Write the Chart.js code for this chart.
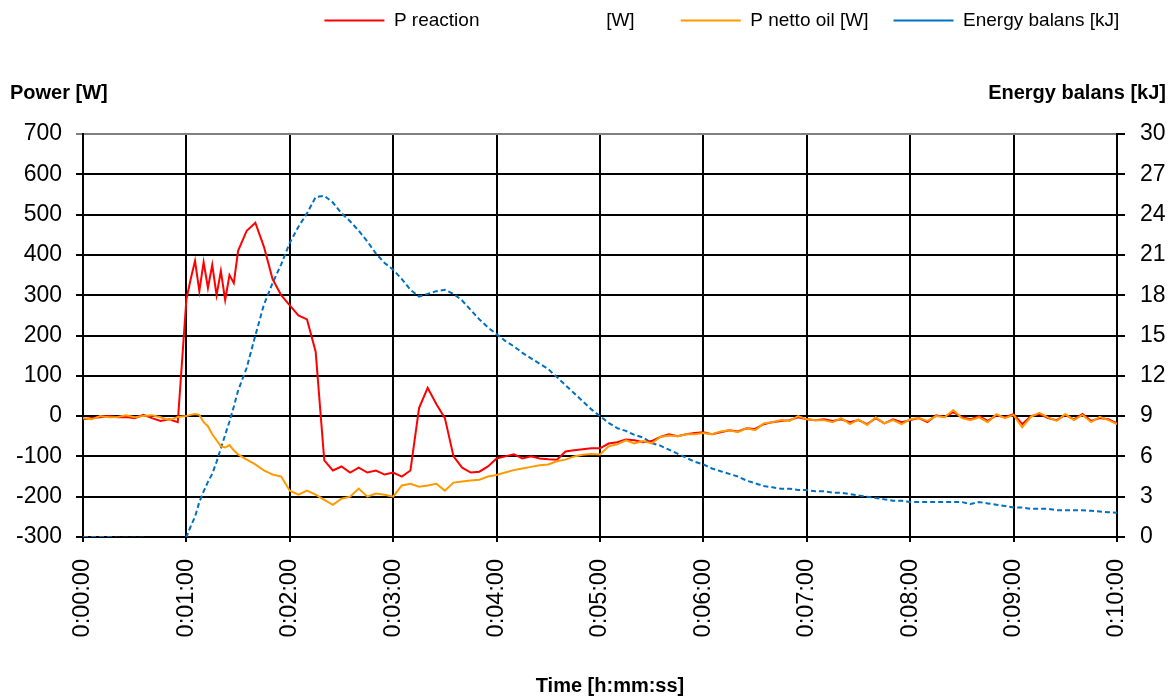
<!DOCTYPE html>
<html>
<head>
<meta charset="utf-8">
<script src="https://cdn.jsdelivr.net/npm/chart.js@4.4.0/dist/chart.umd.min.js"></script>
<style>
  html, body { margin: 0; padding: 0; background: #fff; }
</style>
</head>
<body>
<canvas id="powerChart" width="1176" height="698"></canvas>
<script>
// time in seconds, a reading every 5 s (2.5 s while the reaction starts)
const times = [
  0, 5, 10, 15, 20, 25, 30, 35, 40, 45, 50, 55,
  60, 62.5, 65, 67.5, 70, 72.5, 75, 77.5, 80, 82.5, 85, 87.5,
  90, 95, 100, 105, 110, 115,
  120, 125, 130, 135, 140, 145, 150, 155, 160, 165, 170, 175,
  180, 185, 190, 195, 200, 205, 210, 215, 220, 225, 230, 235,
  240, 245, 250, 255, 260, 265, 270, 275, 280, 285, 290, 295,
  300, 305, 310, 315, 320, 325, 330, 335, 340, 345, 350, 355,
  360, 365, 370, 375, 380, 385, 390, 395, 400, 405, 410, 415,
  420, 425, 430, 435, 440, 445, 450, 455, 460, 465, 470, 475,
  480, 485, 490, 495, 500, 505, 510, 515, 520, 525, 530, 535,
  540, 545, 550, 555, 560, 565, 570, 575, 580, 585, 590, 595,
  600
];

const pReaction = [
  -8, -5, -3, 0, -3, -2, -5, 3, -5, -12, -8, -15,
  290, 340, 385, 310, 382, 318, 375, 300, 360, 288, 350, 330,
  410, 460, 480, 420, 340, 300,
  275, 250, 240, 160, -110, -135, -125, -140, -128, -140, -135, -145,
  -140, -150, -135, 20, 70, 30, -5, -100, -128, -140, -138, -125,
  -105, -100, -95, -105, -100, -105, -107, -108, -88, -85, -82, -80,
  -80, -68, -65, -58, -60, -65, -62, -52, -45, -50, -45, -42,
  -40, -45, -40, -35, -38, -30, -32, -20, -15, -12, -10, -3,
  -8, -10, -8, -12, -8, -15, -10, -20, -5, -18, -8, -15,
  -10, -5, -15, 2, -2, 10, -3, -8, 0, -12, 2, -3,
  5, -20, 0, 5, -5, -10, 3, -8, 5, -12, -5, -8,
  -18
];

const pNettoOil = [
  -5, -8, 0, -3, -2, 2, -3, 0, 2, -3, -10, -2,
  0, 3, 5, 3, -15, -25, -45, -60, -75, -78, -72, -85,
  -95, -108, -120, -135, -145, -150,
  -185, -195, -185, -195, -208, -220, -205, -200, -180, -200, -192, -195,
  -200, -172, -168, -175, -172, -168, -185, -165, -162, -160, -158, -150,
  -146, -140, -134, -130, -126, -122, -120, -112, -108, -100, -96, -94,
  -95, -75, -70, -60, -68, -62, -68, -52, -48, -50, -45, -45,
  -42, -45, -38, -35, -40, -30, -35, -18, -15, -10, -12, 0,
  -8, -10, -10, -15, -5, -20, -8, -22, -3, -18, -10, -20,
  -8, -5, -12, 0, -3, 15, -5, -10, -3, -15, 5, -5,
  3, -28, -2, 8, -3, -12, 5, -10, 3, -15, -2, -10,
  -20
];

const energyBalans = [
  0, 0, 0, 0, -0.05, -0.05, -0.05, -0.05, -0.1, -0.1, -0.3, -0.3,
  0, 0.8, 1.5, 2.6, 3.4, 4.1, 4.7, 5.6, 6.6, 7.6, 8.6, 9.7,
  10.9, 12.6, 15.0, 17.3, 18.9, 20.3,
  21.9, 23.1, 24.1, 25.3, 25.4, 24.9, 24.1, 23.5, 22.8, 22.0, 21.1, 20.4,
  19.9, 19.2, 18.4, 17.9, 18.1, 18.3, 18.4, 18.1, 17.6, 16.9, 16.2, 15.6,
  15.1, 14.6, 14.2, 13.7, 13.3, 12.9, 12.5, 11.9, 11.3, 10.7, 10.1, 9.5,
  9.0, 8.5, 8.1, 7.9, 7.6, 7.4, 7.0, 6.8, 6.5, 6.2, 5.9, 5.6,
  5.4, 5.1, 4.9, 4.7, 4.5, 4.2, 4.0, 3.8, 3.7, 3.6, 3.6, 3.5,
  3.5, 3.4, 3.4, 3.3, 3.3, 3.2, 3.1, 3.0, 2.9, 2.8, 2.7, 2.7,
  2.6, 2.6, 2.6, 2.6, 2.6, 2.6, 2.6, 2.45, 2.6, 2.5, 2.4, 2.3,
  2.2, 2.2, 2.1, 2.1, 2.1, 2.0, 2.0, 2.0, 2.0, 1.95, 1.9, 1.85,
  1.8
];

// the spaces keep the legend entries where the excel legend had them
const seriesLabels = [
  'P reaction                        [W]    ',
  'P netto oil [W]',
  'Energy balans [kJ]      '
];

const fontFamily = '"Liberation Sans", Arial, sans-serif';
Chart.defaults.font.family = fontFamily;
Chart.defaults.color = '#000';

function toPoints(values) {
  return times.map((t, i) => ({ x: t, y: values[i] }));
}

function formatTime(sec) {
  const m = Math.floor(sec / 60);
  const s = sec % 60;
  return '0:' + String(m).padStart(2, '0') + ':' + String(s).padStart(2, '0');
}

// gives the chart area room below the legend
const legendSpace = {
  id: 'legendSpace',
  beforeInit(chart) {
    const fit = chart.legend.fit;
    chart.legend.fit = function() {
      fit.call(this);
      this.height = 148;
    };
  }
};

// horizontal axis titles like the excel sheet
const axisTitles = {
  id: 'axisTitles',
  afterDraw(chart) {
    const ctx = chart.ctx;
    const area = chart.chartArea;
    ctx.save();
    ctx.fillStyle = '#000';
    ctx.font = 'bold 20px ' + fontFamily;
    ctx.textBaseline = 'middle';
    ctx.textAlign = 'left';
    ctx.fillText('Power [W]', area.left - 73, area.top - 41);
    ctx.textAlign = 'right';
    ctx.fillText('Energy balans [kJ]', area.right + 49, area.top - 41);
    ctx.textAlign = 'center';
    ctx.fillText('Time [h:mm:ss]', (area.left + area.right) / 2 + 10, area.bottom + 149);
    ctx.restore();
  }
};

const chartElement = document.getElementById('powerChart').getContext('2d');

const powerChart = new Chart(chartElement, {
  type: 'line',
  data: {
    datasets: [{
      label: seriesLabels[0],
      data: toPoints(pReaction),
      yAxisID: 'y',
      borderColor: '#FF0000',
      backgroundColor: '#FF0000',
      borderWidth: 2,
      pointRadius: 0,
      order: 2
    }, {
      label: seriesLabels[1],
      data: toPoints(pNettoOil),
      yAxisID: 'y',
      borderColor: '#FF9900',
      backgroundColor: '#FF9900',
      borderWidth: 2,
      pointRadius: 0,
      order: 1
    }, {
      label: seriesLabels[2],
      data: toPoints(energyBalans),
      yAxisID: 'y1',
      borderColor: '#0070C0',
      backgroundColor: '#0070C0',
      borderWidth: 2,
      borderDash: [5, 3],
      pointRadius: 0,
      order: 3
    }]
  },
  options: {
    responsive: false,
    animation: false,
    layout: {
      padding: { top: -14, right: 0, left: 0, bottom: 0 }
    },
    scales: {
      x: {
        type: 'linear',
        position: 'bottom',
        min: 0,
        max: 600,
        ticks: {
          stepSize: 60,
          autoSkip: false,
          maxRotation: 90,
          minRotation: 90,
          padding: 17,
          font: { size: 23.5 },
          callback: value => formatTime(value)
        },
        grid: { color: '#000', lineWidth: 2, tickLength: 5 },
        border: { color: '#000', width: 2 },
        afterFit: scale => { scale.height = 161; }
      },
      y: {
        position: 'left',
        min: -300,
        max: 700,
        ticks: { stepSize: 100, padding: 14, font: { size: 23 } },
        grid: {
          color: ctx => (ctx.tick && ctx.tick.value === 700 ? '#808080' : '#000'),
          lineWidth: 2,
          tickLength: 7
        },
        border: { color: '#000', width: 2 },
        afterFit: scale => { scale.width = 83; }
      },
      y1: {
        position: 'right',
        min: 0,
        max: 30,
        ticks: { stepSize: 3, padding: 15, font: { size: 23 } },
        grid: { drawOnChartArea: false, color: '#000', lineWidth: 2, tickLength: 8 },
        border: { color: '#000', width: 2 },
        afterFit: scale => { scale.width = 59; }
      }
    },
    plugins: {
      legend: {
        position: 'top',
        align: 'end',
        labels: {
          usePointStyle: true,
          pointStyle: 'line',
          pointStyleWidth: 60,
          padding: 25,
          color: '#000',
          font: { size: 19 },
          sort: (a, b) => a.datasetIndex - b.datasetIndex
        }
      },
      tooltip: { enabled: false }
    }
  },
  plugins: [legendSpace, axisTitles]
});
</script>
</body>
</html>
